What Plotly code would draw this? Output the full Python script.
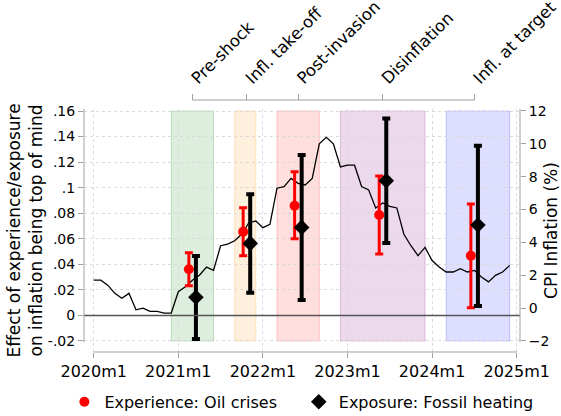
import plotly.graph_objects as go

# ---- data ----
months = list(range(60))  # 2020m1 .. 2024m12, months since 2020m1
cpi = [1.7, 1.7, 1.4, 0.9, 0.6, 0.9, -0.1, 0.0, -0.2, -0.2, -0.3, -0.3,
       1.0, 1.3, 1.7, 2.0, 2.5, 2.3, 3.8, 3.9, 4.1, 4.5, 5.2, 5.3,
       4.9, 5.1, 7.3, 7.4, 7.9, 7.6, 7.5, 7.9, 10.0, 10.4, 10.0, 8.6,
       8.7, 8.7, 7.4, 7.2, 6.1, 6.4, 6.2, 6.1, 4.5, 3.8, 3.2, 3.7,
       2.9, 2.5, 2.2, 2.2, 2.4, 2.2, 2.3, 1.9, 1.6, 2.0, 2.2, 2.6]

periods = ["Pre-shock", "Infl. take-off", "Post-invasion", "Disinflation", "Infl. at target"]
period_start = [11, 20, 26, 35, 50]
period_end = [17, 23, 32, 47, 59]
period_mid = [14, 21.7, 29, 41, 54]
period_fill = ["rgba(34,139,34,0.15)", "rgba(255,140,0,0.13)", "rgba(255,0,0,0.13)",
               "rgba(128,0,128,0.15)", "rgba(0,0,255,0.13)"]
period_edge = ["rgba(34,139,34,0.25)", "rgba(255,140,0,0.22)", "rgba(255,0,0,0.2)",
               "rgba(128,0,128,0.22)", "rgba(0,0,255,0.2)"]

exp_est = [0.0361, 0.0655, 0.0859, 0.0786, 0.0467]
exp_hi = [0.0491, 0.0843, 0.1125, 0.1091, 0.0872]
exp_lo = [0.0232, 0.0467, 0.0600, 0.0481, 0.0060]

fos_est = [0.0142, 0.0564, 0.0689, 0.1054, 0.0708]
fos_hi = [0.0465, 0.0948, 0.1255, 0.1542, 0.1328]
fos_lo = [-0.0185, 0.0178, 0.0121, 0.0567, 0.0074]

x_tickvals = [0, 12, 24, 36, 48, 60]
x_ticktext = ["2020m1", "2021m1", "2022m1", "2023m1", "2024m1", "2025m1"]
left_tickvals = [-0.02, 0, 0.02, 0.04, 0.06, 0.08, 0.10, 0.12, 0.14, 0.16]
left_ticktext = ["-.02", "0", ".02", ".04", ".06", ".08", ".1", ".12", ".14", ".16"]
right_tickvals = [-2, 0, 2, 4, 6, 8, 10, 12]

FONT = "DejaVu Sans"
AX = "#a0a0a0"
GRID = "#dadada"

fig = go.Figure()

fig.add_trace(go.Scatter(x=months, y=cpi, mode="lines", xaxis="x", yaxis="y",
                         line=dict(color="black", width=1.3), showlegend=False,
                         hoverinfo="skip"))

# invisible trace so the top (period) axis is drawn
fig.add_trace(go.Scatter(x=period_mid, y=[None] * len(period_mid), xaxis="x2", yaxis="y",
                         mode="markers", showlegend=False, hoverinfo="skip"))

fig.add_trace(go.Scatter(
    x=[m - 0.5 for m in period_mid], y=exp_est, xaxis="x", yaxis="y2", mode="markers",
    name="Experience: Oil crises", legend="legend",
    marker=dict(color="red", size=10, symbol="circle"),
    error_y=dict(type="data", symmetric=False,
                 array=[h - e for h, e in zip(exp_hi, exp_est)],
                 arrayminus=[e - l for e, l in zip(exp_est, exp_lo)],
                 color="red", thickness=3, width=4)))

fig.add_trace(go.Scatter(
    x=[m + 0.5 for m in period_mid], y=fos_est, xaxis="x", yaxis="y2", mode="markers",
    name="Exposure: Fossil heating", legend="legend2",
    marker=dict(color="black", size=12, symbol="diamond"),
    error_y=dict(type="data", symmetric=False,
                 array=[h - e for h, e in zip(fos_hi, fos_est)],
                 arrayminus=[e - l for e, l in zip(fos_est, fos_lo)],
                 color="black", thickness=4, width=4)))

shapes = []
for s, e, f, c in zip(period_start, period_end, period_fill, period_edge):
    shapes.append(dict(type="rect", xref="x", yref="y2", x0=s, x1=e, y0=-0.02, y1=0.16,
                       fillcolor=f, line=dict(color=c, width=1), layer="below"))
# zero line
shapes.append(dict(type="line", xref="paper", yref="y2", x0=0, x1=1, y0=0, y1=0,
                   line=dict(color="#555555", width=1.5), layer="above"))
# axis lines
shapes.append(dict(type="line", xref="paper", yref="y2", x0=0, x1=0, y0=-0.021, y1=0.1616,
                   line=dict(color=AX, width=1)))
shapes.append(dict(type="line", xref="paper", yref="y2", x0=1, x1=1, y0=-0.021, y1=0.1616,
                   line=dict(color=AX, width=1)))
shapes.append(dict(type="line", xref="x", yref="paper", x0=x_tickvals[0], x1=x_tickvals[-1],
                   y0=0, y1=0, line=dict(color=AX, width=1)))
shapes.append(dict(type="line", xref="x", yref="paper", x0=period_mid[0], x1=period_mid[-1],
                   y0=1, y1=1, line=dict(color=AX, width=1)))

DOM = [0, 0.9643]
LEG_Y = -0.198

fig.update_layout(
    width=561, height=416,
    margin=dict(l=84, r=41, t=100, b=64, autoexpand=False),
    paper_bgcolor="white", plot_bgcolor="white",
    font=dict(family=FONT, size=16, color="black"),
    shapes=shapes,
    showlegend=True,
    legend=dict(orientation="h", x=-0.045, xanchor="left", y=LEG_Y, yanchor="middle",
                font=dict(size=16), itemwidth=30, bgcolor="rgba(0,0,0,0)"),
    legend2=dict(orientation="h", x=0.4926, xanchor="left", y=LEG_Y, yanchor="middle",
                 font=dict(size=16), itemwidth=30, bgcolor="rgba(0,0,0,0)"),
    xaxis=dict(range=[-1.376, 60.47], tickvals=x_tickvals, ticktext=x_ticktext,
               ticks="outside", ticklen=5, tickcolor=AX, showline=False,
               showgrid=True, gridcolor=GRID, griddash="dot", gridwidth=1,
               zeroline=False, tickfont=dict(size=16), anchor="y", automargin=False),
    xaxis2=dict(range=[-1.376, 60.47], overlaying="x", side="top", anchor="free",
                position=1, tickvals=period_mid, ticktext=periods, tickangle=-45,
                ticks="outside", ticklen=6, tickcolor=AX, showline=False,
                ticklabeloverflow="allow",
                showgrid=False, zeroline=False, tickfont=dict(size=16.5), automargin=False),
    yaxis=dict(domain=DOM, side="right", range=[-2.6695, 12.122], anchor="x",
               tickvals=right_tickvals, ticks="outside", ticklen=5, tickcolor=AX,
               showline=False, showgrid=False, zeroline=False, automargin=False,
               tickfont=dict(size=14),
               title=dict(text="CPI Inflation (%)", font=dict(size=17), standoff=20)),
    yaxis2=dict(domain=DOM, overlaying="y", side="left", range=[-0.02861, 0.16157],
                anchor="x", tickvals=left_tickvals, ticktext=left_ticktext, ticks="outside",
                ticklen=5, tickcolor=AX, showline=False, showgrid=True,
                gridcolor=GRID, griddash="dot", gridwidth=1, zeroline=False,
                automargin=False, tickfont=dict(size=14),
                title=dict(text="Effect of experience/exposure<br>on inflation being top of mind",
                           font=dict(size=17), standoff=0)),
)

fig.write_html("out.html")
